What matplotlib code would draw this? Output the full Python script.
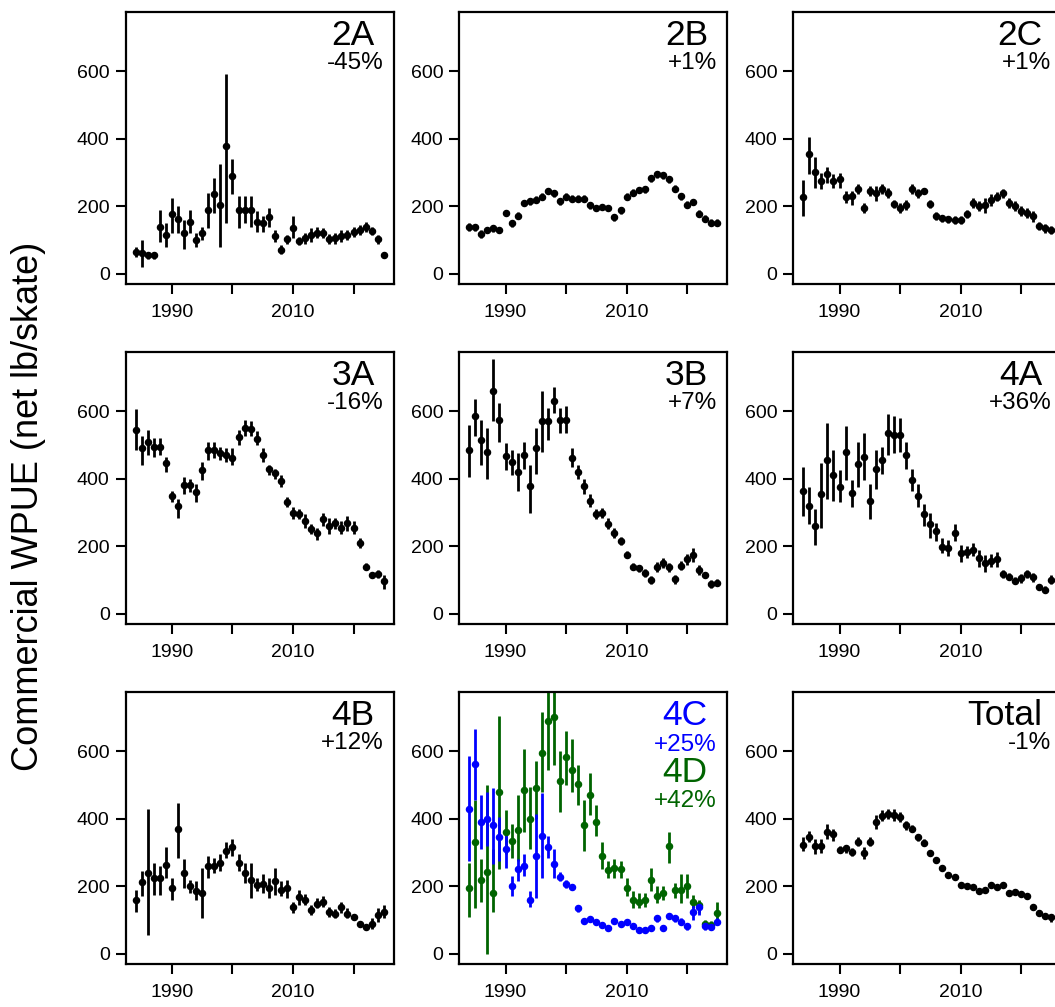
import matplotlib
matplotlib.use("Agg")
import matplotlib.pyplot as plt
import numpy as np

plt.rcParams['font.family'] = ['Liberation Sans', 'DejaVu Sans']

years = list(range(1984, 2026))

# ---- 2A ----
a2_val = [65,62,55,55,140,115,178,163,120,155,100,120,190,235,205,378,290,188,190,188,155,150,168,112,72,102,135,98,105,115,122,120,103,105,112,115,125,130,140,128,103,57]
a2_lo = [50,20,45,45,95,80,120,120,75,120,80,100,135,180,80,150,235,135,150,140,125,125,140,95,60,90,105,85,90,95,105,105,90,90,95,100,110,115,125,115,90,50]
a2_hi = [80,100,65,65,190,150,225,200,160,190,120,140,240,285,325,590,340,230,230,230,185,170,195,130,85,115,170,110,120,135,140,135,118,120,130,130,140,145,155,140,115,65]

# ---- 2B ----
b2_val = [140,138,118,130,135,130,180,150,172,210,215,220,228,245,238,215,228,222,222,222,203,195,198,195,168,188,228,240,248,250,283,295,292,280,252,230,205,213,178,163,152,152]
b2_lo = [128,128,105,120,125,120,170,140,162,200,205,210,218,235,228,205,218,212,212,212,193,185,188,185,158,178,218,230,238,240,273,285,282,270,242,220,195,203,168,153,142,142]
b2_hi = [152,148,130,140,145,140,190,160,182,220,225,230,238,255,248,225,238,232,232,232,213,205,208,205,178,198,238,250,258,260,293,305,302,290,262,240,215,223,188,173,162,162]

# ---- 2C ----
c2_val = [228,355,302,275,295,275,280,228,230,250,195,245,240,250,240,208,195,205,250,238,245,208,172,165,162,160,160,178,210,200,205,218,228,238,210,200,185,180,170,142,135,130]
c2_lo = [170,295,255,250,270,255,255,210,205,235,180,230,215,235,225,195,180,190,235,225,235,195,160,155,150,148,148,165,195,185,180,200,215,225,195,185,170,165,155,130,122,118]
c2_hi = [278,405,345,300,315,295,300,245,245,265,210,260,260,265,255,220,210,220,265,250,255,220,182,175,172,172,172,190,225,215,225,235,242,250,225,215,200,195,185,155,148,142]

# ---- 3A ----
a3_val = [545,490,510,495,495,445,350,318,382,382,360,425,485,485,475,470,462,522,550,548,518,470,428,418,393,330,298,295,275,250,238,280,260,268,255,268,255,210,140,115,118,98]
a3_lo = [485,440,470,465,470,420,330,285,355,360,330,395,455,460,455,450,440,500,525,525,500,450,410,400,375,315,280,280,255,235,220,260,235,250,235,245,235,195,130,105,105,75]
a3_hi = [605,525,545,520,520,465,365,340,405,400,385,450,510,510,495,490,490,545,575,570,540,490,440,430,410,345,315,310,295,265,255,300,285,285,275,290,275,225,150,125,130,115]

# ---- 3B ----
b3_val = [485,585,515,478,660,575,468,450,420,470,378,490,570,570,630,575,575,462,420,378,335,295,298,265,240,215,175,140,135,120,100,140,150,138,102,143,162,175,130,115,90,92]
b3_lo = [405,525,440,400,570,510,425,410,365,430,300,415,480,515,595,535,535,435,400,355,315,280,285,250,225,205,165,130,125,110,90,125,135,125,90,130,145,155,115,105,78,82]
b3_hi = [560,635,575,550,755,625,505,485,475,510,440,550,660,610,670,610,615,490,440,400,355,310,312,285,255,228,185,150,145,132,112,155,165,152,115,158,178,195,145,125,100,102]

# ---- 4A ----
a4_val = [365,320,260,355,455,410,375,480,358,443,465,335,430,455,535,530,530,470,395,350,295,265,245,198,195,240,180,182,190,165,150,158,162,118,110,98,105,118,108,80,72,100]
a4_lo = [290,265,205,255,340,335,330,395,315,375,395,280,370,415,470,475,480,430,365,315,260,225,215,180,170,215,155,165,170,140,125,140,140,105,100,88,92,105,95,72,62,88]
a4_hi = [435,375,310,445,565,485,425,555,395,510,535,385,485,495,590,585,580,510,430,385,325,300,270,225,220,265,205,200,210,190,175,178,182,130,122,110,118,130,120,90,82,115]

# ---- 4B ----
b4_val = [160,212,240,225,225,262,195,370,238,200,185,180,260,260,270,305,315,270,240,220,205,208,195,215,190,195,138,168,160,130,148,155,125,118,138,118,108,88,80,90,115,125]
b4_lo = [125,170,55,175,175,225,160,285,195,180,160,105,225,240,245,285,290,245,210,165,185,180,165,175,170,165,120,145,145,115,135,140,110,105,120,105,100,80,70,75,95,105]
b4_hi = [190,245,430,270,260,315,225,445,280,220,215,255,290,285,295,330,340,295,270,270,225,235,225,255,215,220,155,190,178,145,165,172,140,132,155,135,118,96,90,105,135,145]

# ---- 4C ----
c4_val = [430,562,390,400,380,345,310,200,250,260,160,290,350,315,265,228,208,198,135,97,103,93,85,78,97,88,93,83,70,70,78,105,78,112,105,95,82,125,138,82,80,95]
c4_lo = [275,455,310,320,265,275,255,170,215,230,140,165,225,285,225,215,195,188,125,88,93,85,77,70,88,80,85,75,63,63,70,95,70,102,95,85,72,100,115,70,70,85]
c4_hi = [585,665,470,480,490,405,360,230,280,295,185,415,475,350,310,242,220,208,145,106,113,101,93,86,106,96,101,91,77,77,86,115,86,122,115,105,92,150,155,95,90,105]

# ---- 4D ----
d4_val = [195,330,218,243,180,478,360,335,368,485,400,490,595,688,700,512,582,545,502,382,470,390,290,248,255,250,195,160,155,160,218,172,180,318,190,190,200,155,145,88,85,120]
d4_lo = [110,135,155,0,125,250,295,285,275,360,310,400,480,545,560,420,500,480,440,305,410,350,250,225,225,225,170,135,135,140,185,150,160,270,165,150,165,135,120,75,72,95]
d4_hi = [270,455,280,500,310,705,425,385,470,605,495,570,715,775,775,600,660,635,560,455,535,440,330,275,280,275,225,185,180,180,255,200,200,360,210,235,235,175,160,100,98,155]

# ---- Total ----
tot_val = [322,345,320,320,362,355,308,312,302,330,298,330,390,408,415,410,405,380,370,345,328,298,278,255,232,228,205,200,198,185,190,205,198,203,180,183,178,170,140,120,112,108]
tot_lo = [305,330,295,300,340,335,298,300,290,318,280,318,370,392,400,392,390,368,360,335,318,290,270,247,225,220,198,193,190,176,182,197,190,195,172,175,170,162,133,113,105,95]
tot_hi = [345,365,340,340,385,370,318,322,314,345,315,345,410,425,430,428,420,392,380,355,340,306,286,263,240,236,212,207,206,194,198,213,206,211,188,191,186,178,147,127,119,118]

ytick_vals = [0, 200, 400, 600]
xtick_vals = [1990, 2000, 2010, 2020]
xtick_labels = ["1990", "", "2010", ""]

BLUE = "#0000FF"
GREEN = "#006400"

panels = [
    [("2A", "-45%", "black", a2_val, a2_lo, a2_hi)],
    [("2B", "+1%", "black", b2_val, b2_lo, b2_hi)],
    [("2C", "+1%", "black", c2_val, c2_lo, c2_hi)],
    [("3A", "-16%", "black", a3_val, a3_lo, a3_hi)],
    [("3B", "+7%", "black", b3_val, b3_lo, b3_hi)],
    [("4A", "+36%", "black", a4_val, a4_lo, a4_hi)],
    [("4B", "+12%", "black", b4_val, b4_lo, b4_hi)],
    [("4D", "+42%", GREEN, d4_val, d4_lo, d4_hi), ("4C", "+25%", BLUE, c4_val, c4_lo, c4_hi)],
    [("Total", "-1%", "black", tot_val, tot_lo, tot_hi)],
]

W, H = 1055, 1007
fig = plt.figure(figsize=(W / 100, H / 100), dpi=100)

col_left = [125.7, 459.3, 793.3]
row_top = [12, 352, 692]
pw, ph = 268, 272

TITLE_FS = 25.5
PCT_FS = 17.5
TICK_FS = 14

for i, series in enumerate(panels):
    r, c = divmod(i, 3)
    left = col_left[c] / W
    bottom = 1 - (row_top[r] + ph) / H
    ax = fig.add_axes([left, bottom, pw / W, ph / H])
    for (name, pct, col, val, lo, hi) in series:
        x = np.array(years)
        v = np.array(val, dtype=float)
        ax.vlines(x, lo, hi, color=col, lw=2.0, zorder=2)
        ax.plot(x, v, ls='none', marker='o', ms=4.4, color=col, mec=col, zorder=3)
    ax.set_xlim(1982.36, 2026.64)
    ax.set_ylim(-29.8, 774.8)
    ax.set_yticks(ytick_vals)
    ax.set_yticklabels([str(t) for t in ytick_vals])
    ax.set_xticks(xtick_vals)
    ax.set_xticklabels(xtick_labels)
    ax.tick_params(direction='out', length=7.5, width=1.5, labelsize=TICK_FS, colors='black')
    ax.tick_params(axis='y', pad=4)
    ax.tick_params(axis='x', pad=7)
    for sp in ax.spines.values():
        sp.set_linewidth(1.6)
        sp.set_color('black')
    if len(series) == 1:
        name, pct, col = series[0][0], series[0][1], series[0][2]
        ax.text(1 - 19 / pw, 1 - 33 / ph, name, transform=ax.transAxes, ha='right',
                va='baseline', fontsize=TITLE_FS, color=col)
        ax.text(1 - 10 / pw, 1 - 57 / ph, pct, transform=ax.transAxes, ha='right',
                va='baseline', fontsize=PCT_FS, color=col)
    else:
        d, cc = series[0], series[1]
        ax.text(1 - 20 / pw, 1 - 33 / ph, cc[0], transform=ax.transAxes, ha='right',
                va='baseline', fontsize=TITLE_FS, color=cc[2])
        ax.text(1 - 11 / pw, 1 - 59 / ph, cc[1], transform=ax.transAxes, ha='right',
                va='baseline', fontsize=PCT_FS, color=cc[2])
        ax.text(1 - 20 / pw, 1 - 90 / ph, d[0], transform=ax.transAxes, ha='right',
                va='baseline', fontsize=TITLE_FS, color=d[2])
        ax.text(1 - 11 / pw, 1 - 115 / ph, d[1], transform=ax.transAxes, ha='right',
                va='baseline', fontsize=PCT_FS, color=d[2])

fig.text(29 / W, 1 - 506 / H, "Commercial WPUE (net lb/skate)", rotation=90,
         ha='center', va='center', fontsize=26, color='black')

fig.savefig("out.png", dpi=100)
